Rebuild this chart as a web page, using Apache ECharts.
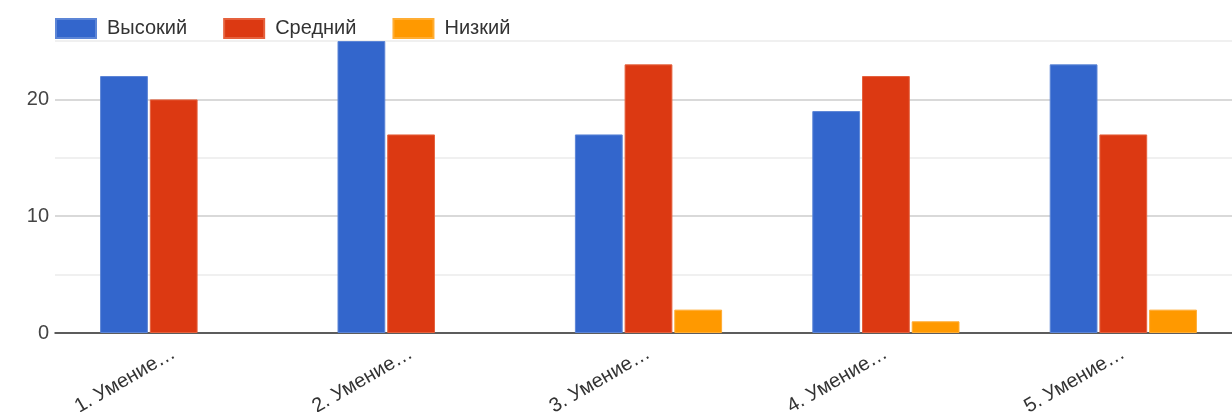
<!DOCTYPE html>
<html><head><meta charset="utf-8">
<script src="https://cdn.jsdelivr.net/npm/echarts@6/dist/echarts.min.js"></script>
<style>html,body{margin:0;padding:0;background:#fff;overflow:hidden;width:1232px;height:412px}#c{width:1242px;height:412px}</style>
</head><body><div id="c"></div>
<script>
const categories = ['1. Умение…', '2. Умение…', '3. Умение…', '4. Умение…', '5. Умение…'];
const seriesNames = ['Высокий', 'Средний', 'Низкий'];
const high = [22, 25, 17, 19, 23];
const mid = [20, 17, 23, 22, 17];
const low = [0, 0, 2, 1, 2];
const yTicks = [0, 10, 20];

const colors = ['#3366cc', '#dc3912', '#ff9900'];
const borders = ['#5c85d6', '#e5613d', '#ffad33'];
const font = '"Liberation Sans", Arial, sans-serif';

const chart = echarts.init(document.getElementById('c'), null, {renderer: 'canvas'});
const mk = (name, data, i) => ({
  name, type: 'bar', data: data.map(v => v === 0 ? null : v),
  barGap: '4%', barCategoryGap: '38%',
  itemStyle: {color: colors[i], borderColor: borders[i], borderWidth: 1},
  emphasis: {disabled: true}
});
chart.setOption({
  animation: false,
  color: colors,
  legend: {
    left: 55, top: 18, padding: 0, itemWidth: 40, itemHeight: 19, itemGap: 36,
    icon: 'rect',
    textStyle: {fontFamily: font, fontSize: 20, color: '#333', width: 86, padding: [0, 0, 0, 6]},
    data: seriesNames
  },
  grid: {left: 55, top: 41, right: 0, height: 292, outerBoundsMode: 'none', containLabel: false},
  xAxis: {
    type: 'category', data: categories,
    axisLine: {lineStyle: {color: '#333', width: 1.5}},
    axisTick: {show: false},
    axisLabel: {rotate: 30, fontFamily: font, fontSize: 20, color: '#333', margin: 19, interval: 0}
  },
  yAxis: {
    type: 'value', min: 0, max: 25, interval: 5,
    axisLine: {show: false}, axisTick: {show: false},
    axisLabel: {
      fontFamily: font, fontSize: 20, color: '#444', margin: 6,
      formatter: v => yTicks.includes(v) ? String(v) : ''
    },
    splitLine: {lineStyle: {color: ['#cccccc', '#ebebeb'], width: 1.5}}
  },
  series: [mk(seriesNames[0], high, 0), mk(seriesNames[1], mid, 1), mk(seriesNames[2], low, 2)]
});
</script></body></html>
